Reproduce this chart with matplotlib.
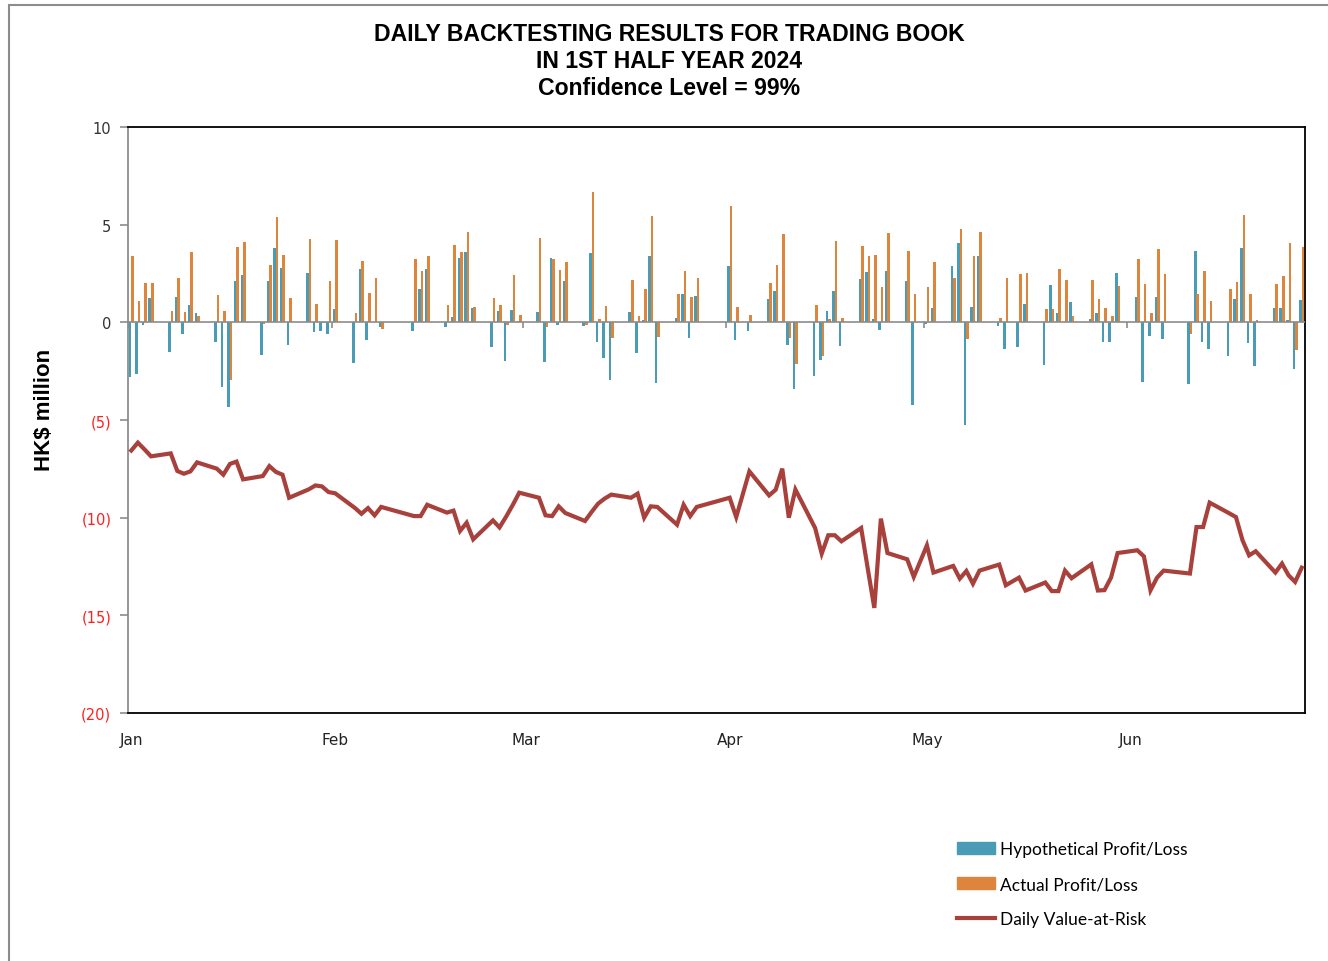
import numpy as np
import pandas as pd
import matplotlib
matplotlib.use("Agg")
import matplotlib.pyplot as plt
import matplotlib.dates as mdates
from matplotlib.patches import Patch, Rectangle
from matplotlib.lines import Line2D

# HK trading days, first half 2024
holidays = ["2024-01-01", "2024-02-12", "2024-02-13", "2024-03-29", "2024-04-01",
            "2024-04-04", "2024-05-01", "2024-05-15", "2024-06-10"]
days = pd.bdate_range("2024-01-02", "2024-06-28")
days = days[~days.isin(pd.to_datetime(holidays))]

# Hypothetical P/L (HK$ million)
hyp = [-2.80, -2.66, -0.12, 1.24, -1.52, 1.28, -0.61, 0.90, 0.46, -0.99, -3.32, -4.31, 2.13, 2.40,
       -1.69, 2.13, 3.80, 2.80, -1.18, 2.52, -0.48, -0.46,
       -0.61, 0.70, -2.06, 2.71, -0.89, 0.03, -0.26, -0.46, 1.72, 2.74, -0.26, 0.29, 3.27, 3.61,
       0.75, -1.28, 0.56, -2.00, 0.61,
       0.05, 0.51, -2.03, 3.31, -0.12, 2.13, -0.20, 3.56, -1.02, -1.84, -2.93, 0.51, -1.55, 0.14,
       3.41, -3.12, 0.22, 1.47, -0.80, 1.35,
       2.90, -0.89, -0.46, 1.19, 1.60, 0.09, -1.18, -3.41, -2.74, -1.94, 0.60, 1.60, -1.23, 2.23,
       2.56, 0.17, -0.38, 2.61, 2.13, -4.23,
       -0.09, 0.75, 2.90, 4.04, -5.27, 0.80, 3.41, -0.20, -1.36, -1.28, 0.94, -2.18, 1.89, 0.46,
       0.03, 1.04, 0.17, 0.46, -1.02, -0.99, 2.51,
       1.30, -3.03, -0.70, 1.30, -0.85, -3.17, 3.67, -0.99, -1.36, -1.71, 1.18, 3.80, -1.04, -2.23,
       0.75, 0.75, 0.14, -2.37, 1.14]

# Actual P/L (HK$ million)
act = [3.38, 1.09, 2.03, 2.03, 0.56, 2.28, 0.51, 3.61, 0.34, 1.42, 0.56, -2.95, 3.85, 4.09,
       -0.10, 2.95, 5.40, 3.46, 1.24, 4.28, 0.94, -0.05,
       2.13, 4.23, 0.46, 3.14, 1.52, 2.28, -0.32, 3.24, 2.61, 3.41, 0.90, 3.94, 3.61, 4.65,
       0.80, 1.24, 0.90, -0.12, 2.42,
       0.38, 4.31, -0.26, 3.26, 2.66, 3.09, -0.12, 6.65, 0.17, 0.85, -0.80, 2.18, 0.34, 1.71,
       5.46, -0.75, 1.47, 2.61, 1.30, 2.28,
       5.98, 0.80, 0.38, 1.99, 2.95, 4.52, -0.80, -2.13, 0.90, -1.71, 0.17, 4.18, 0.22, 3.89,
       3.38, 3.46, 1.81, 4.57, 3.67, 1.47,
       1.81, 3.09, 2.28, 4.79, -0.85, 3.41, 4.65, 0.22, 2.28, 2.47, 2.52, 0.70, 0.70, 2.74,
       2.18, 0.34, 2.18, 1.18, 0.75, 0.34, 1.84,
       3.24, 1.94, 0.46, 3.75, 2.47, -0.61, 1.47, 2.61, 1.09, 1.71, 2.08, 5.51, 1.47, 0.14,
       1.94, 2.37, 4.04, -1.42, 3.85]

# Daily VaR (HK$ million)
var = [-6.56, -6.16, -6.50, -6.86, -6.71, -7.61, -7.75, -7.63, -7.17, -7.49, -7.80, -7.25, -7.13, -8.04,
       -7.87, -7.36, -7.66, -7.80, -8.98, -8.55, -8.35, -8.40,
       -8.69, -8.75, -9.50, -9.80, -9.51, -9.88, -9.45, -9.92, -9.92, -9.34, -9.74, -9.64, -10.68, -10.26,
       -11.11, -10.14, -10.50, -9.95, -9.36,
       -8.72, -8.98, -9.88, -9.92, -9.42, -9.76, -10.17, -9.71, -9.28, -9.02, -8.82, -8.98, -8.77, -10.00,
       -9.42, -9.45, -10.36, -9.34, -9.92, -9.45,
       -8.98, -9.97, -7.63, -8.86, -8.57, -7.49, -10.00, -8.56, -10.53, -11.84, -10.90, -10.90, -11.21, -10.53,
       -12.60, -14.62, -10.05, -11.81, -12.13, -13.03,
       -11.42, -12.81, -12.47, -13.12, -12.73, -13.38, -12.71, -12.40, -13.46, -13.07, -13.73, -13.32, -13.76, -13.76,
       -12.71, -13.10, -12.39, -13.73, -13.71, -13.07, -11.81,
       -11.67, -11.98, -13.72, -13.07, -12.71, -12.86, -10.48, -10.48, -9.23, -9.78, -9.97, -11.16, -11.93, -11.72,
       -12.81, -12.35, -12.95, -13.29, -12.56]

blue = "#4a9bb5"
orange = "#dd843d"
red = "#a8403c"
grey = "#8c8c8c"

W, H = 1328, 962
fig = plt.figure(figsize=(W / 100, H / 100), dpi=100)
ax = fig.add_axes([128 / W, 1 - 714 / H, (1305 - 128) / W, (714 - 128) / H])

x = mdates.date2num(days)
ax.bar(x - 0.19, hyp, width=0.39, color=blue, zorder=2)
ax.bar(x + 0.19, act, width=0.39, color=orange, zorder=2)
ax.axhline(0, color=grey, lw=1.2, zorder=3)
ax.plot(x, var, color=red, lw=3, solid_joinstyle="miter", zorder=4)

# month ticks
month_ticks = mdates.date2num(pd.date_range("2024-01-02", periods=6, freq=pd.DateOffset(months=1)))
ax.vlines(month_ticks - 0.5, -0.27, 0, color=grey, lw=1.2, zorder=3)
ax.set_xticks(month_ticks)
ax.xaxis.set_major_formatter(mdates.DateFormatter("%b"))
ax.set_xlim(x[0] - 0.5, x[-1] + 0.5)
ax.tick_params(axis="x", length=0, pad=13.5, labelsize=11, labelcolor="#222222")

ax.set_ylim(-20, 10)
ax.set_yticks(np.arange(-20, 11, 5))
ax.set_yticklabels([f"({abs(v)})" if v < 0 else f"{v}" for v in range(-20, 11, 5)])
ax.tick_params(axis="y", direction="out", length=6, width=1.2, color=grey, pad=6, labelsize=10.5)
for lab, v in zip(ax.get_yticklabels(), range(-20, 11, 5)):
    lab.set_color("#ff2020" if v < 0 else "#333333")

for s in ["top", "right", "bottom"]:
    ax.spines[s].set_color("black")
    ax.spines[s].set_linewidth(1.3)
ax.spines["left"].set_color(grey)
ax.spines["left"].set_linewidth(1.3)

fig.text(44 / W, 1 - 410 / H, "HK$ million", rotation=90, ha="center", va="center",
         fontsize=16, fontweight="bold", family="Liberation Sans")

fig.text(669 / W, 1 - 61.5 / H,
         "DAILY BACKTESTING RESULTS FOR TRADING BOOK\nIN 1ST HALF YEAR 2024\nConfidence Level = 99%",
         ha="center", va="center", fontsize=16.6, fontweight="bold", family="Liberation Sans",
         linespacing=1.22)

handles = [Patch(color=blue), Patch(color=orange), Line2D([], [], color=red, lw=3)]
labels = ["Hypothetical Profit/Loss", "Actual Profit/Loss", "Daily Value-at-Risk"]
fig.legend(handles, labels, loc="upper left", bbox_to_anchor=(957 / W, 1 - 842 / H),
           frameon=False, borderpad=0, borderaxespad=0, handlelength=2.2, handletextpad=0.3,
           labelspacing=1.1, prop={"family": "Lato", "size": 12.5})

# outer border of the chart
fig.add_artist(Rectangle((8.5 / W, -0.1), 2, 1.1 - 5.5 / H, transform=fig.transFigure,
                         fill=False, edgecolor=grey, lw=1.5))

fig.savefig("out.png", dpi=100)
